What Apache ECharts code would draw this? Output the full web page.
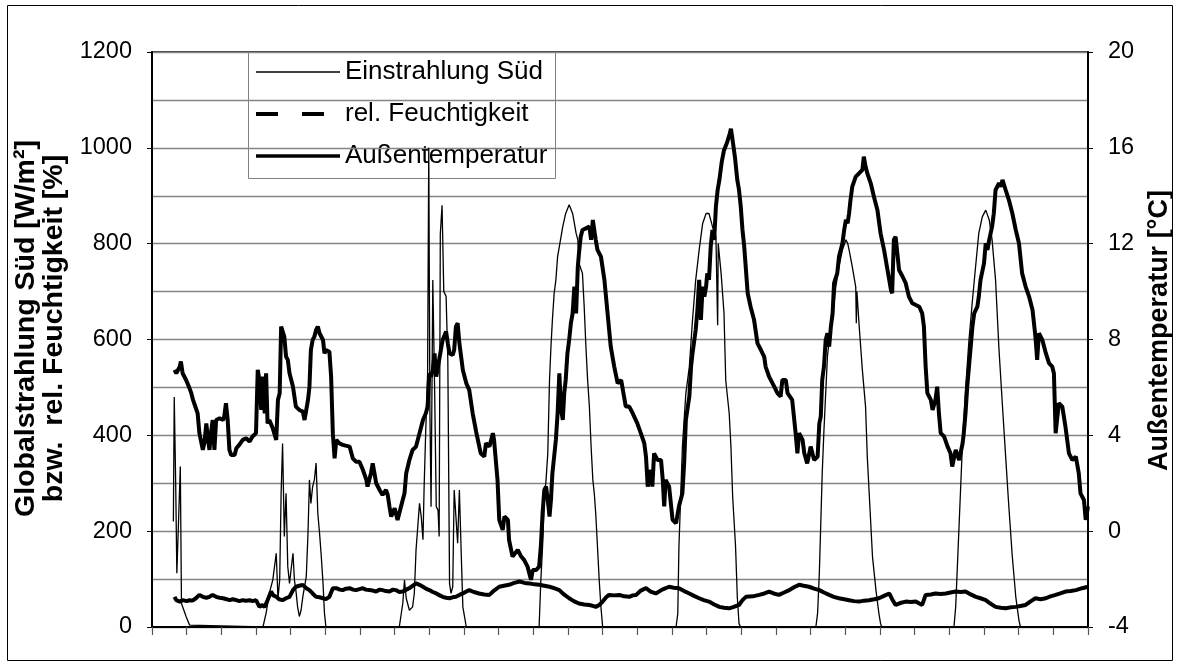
<!DOCTYPE html>
<html>
<head>
<meta charset="utf-8">
<script src="https://cdn.jsdelivr.net/npm/echarts@6/dist/echarts.min.js"></script>
<style>
  html, body { margin: 0; padding: 0; background: #fff; }
  #main { width: 1181px; height: 668px; }
</style>
</head>
<body>
<div id="main"></div>
<script>
// time in hours from start, x axis ticks every 6 h
var seriesNames = ['Einstrahlung Süd', 'rel. Feuchtigkeit', 'Außentemperatur'];

// [hour, W/m²]
var radiation = [
  [3.7, 220], [3.85, 480], [4.1, 300], [4.3, 112], [4.6, 112], [4.9, 335], [5.1, 49], [5.3, 49],
  [5.9, 22], [6.5, 4], [6.8, 0], [19.2, 0], [19.75, 29], [20.3, 70], [20.9, 98], [21.5, 154],
  [21.8, 60], [22.1, 98], [22.35, 279], [22.6, 383], [22.9, 189], [23.2, 279], [23.5, 126],
  [23.8, 91], [24.4, 154], [24.65, 98], [24.9, 77], [25.2, 42], [25.5, 22], [25.8, 35],
  [26.1, 63], [26.7, 105], [27.0, 196], [27.25, 307], [27.5, 258], [27.8, 293], [28.1, 307],
  [28.4, 342], [28.7, 237], [29.0, 196], [29.3, 147], [29.6, 91], [29.85, 29], [30.1, 0],
  [42.8, 0], [43.4, 49], [43.7, 98], [44.0, 60], [44.55, 35], [45.1, 42], [45.4, 70],
  [45.7, 161], [46.0, 161], [46.3, 258], [46.6, 230], [46.9, 182], [47.1, 293], [47.4, 418],
  [47.7, 529], [47.9, 1000], [48.1, 450], [48.3, 251], [48.6, 724], [48.9, 509], [49.2, 251],
  [49.5, 244], [49.7, 189], [49.9, 820], [50.2, 880], [50.5, 700], [50.9, 690], [51.2, 557],
  [51.5, 91], [51.75, 70], [52.05, 84], [52.3, 286], [52.6, 286], [52.9, 175], [53.2, 286],
  [53.5, 161], [53.8, 42], [54.4, 0], [67.0, 0], [67.3, 98], [67.6, 168], [67.9, 265],
  [68.2, 307], [68.5, 362], [68.8, 515], [69.05, 585], [69.3, 641], [69.6, 696], [69.9, 724],
  [70.2, 773], [70.5, 794], [71.1, 836], [71.6, 863], [72.2, 881], [72.5, 877], [72.8, 863],
  [73.4, 822], [73.7, 808], [73.9, 759], [74.5, 738], [74.8, 669], [75.1, 585], [75.4, 515],
  [75.7, 460], [76.0, 376], [76.3, 307], [76.55, 279], [76.8, 237], [77.1, 168], [77.4, 98],
  [77.7, 42], [78.0, 0], [90.7, 0], [91.0, 28], [91.2, 168], [91.5, 272], [91.8, 376],
  [92.4, 488], [93.0, 543], [93.55, 641], [94.1, 724], [94.7, 787], [95.3, 842], [95.9, 863],
  [96.1, 867], [96.4, 863], [97.0, 836], [97.6, 815], [97.8, 815], [97.9, 630], [98.0, 800],
  [98.5, 738], [99.0, 655], [99.3, 515], [99.9, 446], [100.2, 376], [100.5, 272], [101.0, 168],
  [101.3, 63], [101.6, 7], [101.9, 0], [114.9, 0], [115.2, 29], [115.5, 112], [115.75, 216],
  [116.0, 321], [116.3, 411], [116.6, 488], [116.9, 564], [117.2, 599], [117.8, 648],
  [118.35, 710], [118.9, 752], [119.5, 787], [120.1, 808], [120.4, 801], [120.65, 787],
  [121.2, 752], [121.8, 710], [121.9, 634], [122.0, 700], [122.4, 627], [122.95, 536],
  [123.5, 460], [123.8, 355], [124.1, 286], [124.4, 216], [124.7, 147], [125.3, 77],
  [125.8, 29], [126.1, 7], [126.3, 0], [138.8, 0], [139.1, 42], [139.7, 216], [140.3, 390],
  [140.8, 495], [141.4, 599], [142.0, 682], [142.6, 759], [143.1, 822], [143.7, 856],
  [144.3, 870], [144.9, 850], [145.4, 808], [146.0, 724], [146.6, 578], [147.2, 460],
  [147.75, 355], [148.3, 251], [148.9, 147], [149.5, 63], [150.05, 14], [150.3, 0], [162, 0]
];

// [hour, %]
var humidity = [
  [3.9, 63], [4.2, 56], [4.8, 53], [5.3, 56], [6.0, 54], [6.5, 56], [7.0, 55], [7.6, 60],
  [8.2, 67], [8.8, 63], [9.4, 61], [9.95, 63], [10.5, 67], [11.1, 63], [11.7, 61], [12.3, 60],
  [12.9, 58], [13.4, 56], [14.0, 58], [14.6, 56], [15.1, 54], [15.7, 56], [16.3, 55],
  [16.9, 56], [17.4, 54], [18.0, 56], [18.6, 42], [19.0, 46], [19.5, 42], [20.0, 56],
  [20.6, 74], [21.0, 66], [21.5, 63], [22.0, 58], [22.6, 56], [23.2, 60], [23.8, 63],
  [24.4, 77], [24.9, 84], [25.5, 86], [26.1, 88], [26.7, 81], [27.25, 77], [27.8, 70],
  [28.4, 63], [29.0, 62], [29.6, 60], [30.1, 58], [30.7, 63], [31.3, 81], [31.9, 81],
  [32.5, 78], [33.0, 77], [33.6, 80], [34.2, 81], [34.8, 78], [35.3, 77], [35.9, 79],
  [36.5, 81], [37.0, 78], [37.6, 77], [38.2, 76], [38.8, 74], [39.4, 78], [39.9, 77],
  [40.5, 75], [41.1, 74], [41.7, 78], [42.2, 77], [42.8, 73], [43.4, 74], [44.0, 78],
  [44.55, 81], [45.1, 86], [45.7, 91], [46.3, 88], [46.9, 84], [47.4, 80], [48.0, 77],
  [48.6, 73], [49.2, 70], [49.8, 66], [50.3, 63], [50.9, 61], [51.5, 60], [52.0, 62],
  [52.6, 63], [53.2, 67], [53.8, 70], [54.4, 74], [54.9, 77], [55.7, 73], [56.6, 70],
  [57.5, 68], [58.4, 67], [59.2, 76], [60.1, 84], [60.9, 86], [61.8, 88], [62.7, 92],
  [63.6, 95], [64.5, 92], [65.3, 91], [66.2, 89], [67.0, 88], [67.9, 86], [68.8, 84],
  [69.6, 81], [70.5, 77], [71.3, 68], [72.2, 60], [73.0, 54], [73.9, 49], [74.8, 47],
  [75.7, 46], [76.3, 44], [76.8, 42], [77.4, 46], [78.0, 53], [78.6, 62], [79.1, 67],
  [80.0, 66], [80.9, 67], [81.7, 64], [82.6, 63], [83.2, 66], [83.8, 67], [84.6, 76],
  [85.5, 81], [86.3, 74], [87.2, 70], [88.3, 78], [89.5, 84], [90.3, 82], [91.2, 81],
  [92.1, 75], [93.0, 70], [93.8, 65], [94.7, 60], [95.5, 56], [96.4, 53], [97.3, 47],
  [98.2, 42], [99.0, 40], [99.9, 39], [100.7, 42], [101.6, 46], [102.2, 56], [102.8, 63],
  [104.0, 64], [105.1, 67], [106.0, 70], [106.8, 74], [107.6, 70], [108.5, 67], [109.4, 72],
  [110.3, 77], [111.1, 83], [112.0, 88], [112.8, 86], [113.7, 84], [114.6, 80], [115.5, 77],
  [116.3, 72], [117.2, 67], [118.0, 63], [118.9, 60], [119.8, 58], [120.65, 56], [121.5, 54],
  [122.4, 53], [123.2, 55], [124.1, 56], [125.0, 58], [125.8, 60], [126.7, 65], [127.6, 70],
  [128.1, 58], [128.7, 46], [129.5, 50], [130.45, 53], [131.3, 52], [132.2, 53], [132.8, 49],
  [133.3, 46], [133.9, 67], [134.8, 68], [135.6, 70], [136.5, 69], [137.4, 70], [138.2, 72],
  [139.1, 74], [140.0, 73], [140.8, 74], [141.7, 68], [142.6, 63], [143.4, 60], [144.3, 56],
  [145.1, 49], [146.0, 42], [146.9, 40], [147.75, 39], [148.6, 41], [149.5, 42], [150.3, 44],
  [151.2, 46], [152.0, 53], [152.9, 60], [153.8, 58], [154.7, 60], [155.5, 64], [156.4, 67],
  [157.2, 70], [158.1, 74], [159.0, 75], [159.9, 77], [161.0, 81], [162.0, 84]
];

// [hour, °C]
var temperature = [
  [3.9, 6.73], [4.2, 6.59], [4.8, 6.87], [5.0, 7.08], [5.3, 6.59], [5.9, 6.31], [6.5, 5.96],
  [6.8, 5.76], [7.1, 5.48], [7.6, 5.13], [7.9, 4.92], [8.2, 4.09], [8.5, 3.74], [8.8, 3.39],
  [9.1, 3.74], [9.4, 4.5], [9.7, 3.81], [9.95, 3.39], [10.2, 4.09], [10.5, 4.64], [10.8, 3.39],
  [11.1, 4.64], [11.7, 4.71], [12.3, 4.64], [12.5, 4.78], [12.8, 5.34], [13.1, 4.64],
  [13.4, 3.39], [13.7, 3.18], [14.3, 3.18], [14.6, 3.46], [15.1, 3.6], [15.7, 3.81],
  [16.3, 3.88], [16.9, 3.74], [17.4, 3.95], [18.0, 4.09], [18.3, 6.73], [18.6, 6.31],
  [18.9, 5.06], [19.2, 6.45], [19.5, 4.92], [19.75, 6.59], [20.0, 4.5], [20.3, 4.64],
  [20.9, 4.3], [21.5, 3.81], [21.8, 5.48], [22.1, 5.76], [22.35, 8.54], [22.6, 8.54],
  [22.9, 8.12], [23.2, 7.29], [23.5, 7.15], [23.8, 6.59], [24.4, 6.03], [24.9, 5.2],
  [25.5, 5.06], [26.1, 4.99], [26.4, 4.64], [26.7, 5.06], [27.0, 5.48], [27.25, 6.03],
  [27.5, 7.56], [27.8, 7.98], [28.1, 8.12], [28.4, 8.4], [28.7, 8.54], [29.0, 8.26],
  [29.6, 7.98], [29.85, 7.42], [30.1, 7.56], [30.7, 7.49], [31.0, 6.45], [31.3, 4.09],
  [31.6, 3.04], [31.9, 3.81], [32.4, 3.67], [33.0, 3.6], [34.2, 3.53], [34.75, 3.04],
  [35.3, 2.9], [35.9, 2.9], [36.5, 2.56], [37.1, 2.14], [37.3, 1.86], [37.6, 1.86],
  [37.9, 2.42], [38.2, 2.83], [38.5, 2.42], [38.8, 2.0], [39.4, 1.72], [39.9, 1.51],
  [40.5, 1.72], [40.8, 1.51], [41.1, 1.03], [41.4, 0.61], [42.0, 0.96], [42.5, 0.47],
  [43.1, 1.03], [43.7, 1.58], [44.0, 2.42], [44.55, 2.97], [45.1, 3.39], [45.7, 3.53],
  [46.3, 4.09], [46.9, 4.64], [47.4, 4.92], [47.7, 5.2], [48.0, 6.59], [48.3, 6.45],
  [48.6, 6.73], [48.9, 7.42], [49.2, 6.45], [49.7, 7.15], [50.3, 7.98], [50.9, 8.33],
  [51.2, 7.84], [51.5, 7.42], [52.05, 7.36], [52.3, 7.56], [52.6, 8.54], [52.9, 8.68],
  [53.2, 7.84], [53.5, 7.29], [53.8, 6.73], [54.4, 6.17], [54.9, 5.9], [55.5, 4.92],
  [56.1, 4.15], [56.9, 3.25], [57.5, 3.11], [57.8, 3.67], [58.4, 3.53], [59.0, 4.09],
  [59.2, 3.81], [59.8, 2.14], [60.1, 0.47], [60.7, 0.05], [61.0, 0.61], [61.6, 0.47],
  [61.8, -0.37], [62.4, -1.06], [63.3, -0.78], [63.9, -1.06], [64.4, -1.2], [65.0, -1.48],
  [65.6, -2.03], [65.9, -1.62], [66.5, -1.62], [67.0, -1.48], [67.3, -0.64], [67.6, 0.75],
  [67.9, 1.72], [68.2, 1.86], [68.5, 1.3], [68.8, 0.61], [69.05, 1.3], [69.3, 2.42],
  [69.6, 3.11], [69.9, 3.81], [70.2, 4.92], [70.5, 6.59], [70.8, 5.06], [71.1, 4.64],
  [71.35, 5.76], [71.6, 6.31], [71.9, 7.42], [72.2, 7.98], [72.5, 8.68], [72.8, 9.09],
  [73.1, 10.21], [73.4, 9.09], [73.7, 11.04], [73.9, 11.6], [74.2, 12.29], [74.5, 12.57],
  [75.1, 12.64], [75.7, 12.71], [76.0, 12.16], [76.3, 12.99], [76.55, 12.57], [76.8, 12.16],
  [77.1, 11.74], [77.7, 11.46], [78.3, 10.49], [78.85, 9.09], [79.4, 7.7], [80.0, 6.87],
  [80.6, 6.17], [81.2, 6.31], [81.4, 6.03], [82.0, 5.2], [82.6, 5.2], [83.2, 4.92],
  [84.0, 4.5], [84.6, 4.09], [85.2, 3.67], [85.5, 3.11], [85.8, 1.86], [86.35, 2.56],
  [86.6, 1.86], [86.9, 3.25], [87.5, 2.97], [88.1, 2.97], [88.4, 2.14], [88.65, 1.03],
  [88.9, 2.14], [89.5, 1.86], [90.1, 0.47], [90.7, 0.33], [91.2, 1.03], [91.8, 1.58],
  [92.1, 2.83], [92.4, 4.64], [93.0, 5.62], [93.3, 6.87], [93.55, 7.42], [94.1, 8.4],
  [94.4, 9.23], [94.7, 10.49], [95.0, 8.82], [95.3, 10.21], [95.6, 9.79], [95.9, 10.21],
  [96.1, 10.76], [96.4, 10.49], [96.7, 11.88], [97.0, 12.57], [97.3, 12.16], [97.6, 13.55],
  [97.9, 14.24], [98.2, 14.66], [98.6, 15.4], [99.0, 15.9], [99.5, 16.2], [100.0, 16.6],
  [100.2, 16.8], [100.5, 16.3], [100.9, 15.6], [101.3, 14.66], [101.6, 14.24], [101.9, 13.55],
  [102.2, 12.57], [102.5, 11.88], [103.1, 9.93], [103.6, 9.37], [104.2, 8.82], [104.8, 7.84],
  [105.4, 7.56], [105.95, 7.29], [106.2, 6.87], [106.8, 6.45], [107.7, 6.03], [108.25, 5.76],
  [108.8, 5.62], [109.1, 6.31], [109.7, 6.31], [110.0, 5.76], [110.8, 5.48], [111.1, 4.78],
  [111.4, 4.09], [111.7, 3.25], [112.0, 4.09], [112.6, 3.81], [112.9, 3.25], [113.4, 2.83],
  [114.0, 3.53], [114.6, 2.97], [115.2, 3.11], [115.5, 4.5], [115.75, 4.78], [116.0, 6.31],
  [116.3, 6.87], [116.6, 7.98], [116.9, 8.26], [117.2, 7.7], [117.5, 8.54], [117.8, 9.09],
  [118.05, 10.35], [118.6, 10.76], [118.9, 11.46], [119.5, 12.02], [119.8, 12.57],
  [120.1, 12.99], [120.4, 12.85], [120.65, 13.27], [120.9, 13.83], [121.2, 14.38],
  [121.8, 14.8], [122.4, 14.94], [122.95, 15.08], [123.2, 15.63], [123.5, 15.22],
  [123.8, 14.94], [124.4, 14.52], [124.95, 13.96], [125.55, 13.41], [126.1, 12.43],
  [126.7, 11.74], [127.3, 10.9], [127.9, 10.07], [128.1, 9.93], [128.4, 12.16], [128.7, 12.29],
  [129.0, 11.6], [129.3, 10.9], [129.9, 10.63], [130.45, 10.35], [131.0, 9.79], [131.6, 9.51],
  [132.8, 9.37], [133.3, 9.09], [133.6, 8.54], [133.9, 6.87], [134.2, 5.76], [134.8, 5.48],
  [135.1, 5.06], [135.6, 5.48], [135.9, 6.03], [136.2, 4.92], [136.5, 4.09], [137.1, 3.95],
  [137.7, 3.53], [138.2, 3.25], [138.5, 2.7], [139.1, 3.39], [139.7, 2.97], [140.3, 3.67],
  [140.5, 4.09], [140.8, 4.92], [141.1, 6.03], [141.4, 6.87], [141.7, 7.7], [142.0, 8.54],
  [142.3, 9.09], [142.85, 9.37], [143.1, 9.79], [143.4, 10.49], [144.0, 11.18], [144.3, 12.02],
  [144.6, 11.74], [144.9, 12.16], [145.4, 12.71], [145.7, 13.27], [146.0, 14.24], [146.6, 14.52],
  [146.9, 14.38], [147.2, 14.66], [147.75, 14.24], [148.3, 13.83], [148.9, 13.27],
  [149.5, 12.57], [150.05, 12.02], [150.6, 10.76], [151.2, 10.21], [151.8, 9.79], [152.4, 9.23],
  [152.9, 8.12], [153.2, 7.15], [153.5, 8.26], [154.1, 7.98], [154.7, 7.43], [155.25, 7.01],
  [155.8, 6.87], [156.1, 6.59], [156.4, 4.09], [156.95, 5.34], [157.55, 5.2], [158.1, 4.36],
  [158.7, 3.25], [159.3, 2.97], [159.9, 3.11], [160.4, 2.42], [160.7, 1.58], [161.3, 1.3],
  [161.6, 0.47], [162.0, 1.03]
];

var FONT = 'Liberation Sans, Arial, sans-serif';

// legend box drawn by hand (line samples + names)
function legendGraphic() {
    var x0 = 248.5, y0 = 52.5, rowY = [72, 114, 156];
    var styles = [
        { stroke: '#000', lineWidth: 1.3 },
        { stroke: '#000', lineWidth: 4, lineDash: [22, 24] },
        { stroke: '#000', lineWidth: 3.3 }
    ];
    var children = [{
        type: 'rect',
        shape: { x: x0, y: y0, width: 307, height: 126 },
        style: { fill: '#fff', stroke: '#808080', lineWidth: 1 }
    }];
    seriesNames.forEach(function (name, i) {
        children.push({
            type: 'line',
            shape: { x1: 256, y1: rowY[i], x2: 340, y2: rowY[i] },
            style: styles[i]
        });
        children.push({
            type: 'text',
            x: 345, y: rowY[i],
            style: { text: name, font: '26px ' + FONT, fill: '#000', verticalAlign: 'middle' }
        });
    });
    return { type: 'group', z: 100, children: children };
}

var myChart = echarts.init(document.getElementById('main'), null, { renderer: 'canvas' });
var option = {
    animation: false,
    backgroundColor: '#fff',
    textStyle: { fontFamily: FONT, color: '#000' },
    graphic: [{
        type: 'rect',
        shape: { x: 7.5, y: 5.5, width: 1165, height: 655 },
        style: { fill: 'none', stroke: '#000', lineWidth: 1 },
        z: -1
    }, legendGraphic()],
    grid: {
        left: 152, right: 92, top: 52, bottom: 41,
        show: true, borderColor: '#000', borderWidth: 1.5
    },
    xAxis: {
        type: 'value', min: 0, max: 162, interval: 6,
        axisLine: { show: true, onZero: false, lineStyle: { color: '#000', width: 2 } },
        axisTick: { show: true, length: 8, lineStyle: { color: '#555', width: 1.2 } },
        axisLabel: { show: false },
        splitLine: { show: false }
    },
    yAxis: [{
        type: 'value', min: 0, max: 1200, interval: 200,
        position: 'left',
        name: 'Globalstrahlung Süd [W/m²]\nbzw.  rel. Feuchtigkeit [%]',
        nameLocation: 'middle', nameRotate: 90, nameGap: 73,
        nameTextStyle: { fontFamily: FONT, fontSize: 28.5, fontWeight: 'bold', lineHeight: 28, color: '#000', padding: [0, 0, 0, 22] },
        axisLine: { show: true, lineStyle: { color: '#000', width: 2 } },
        axisTick: { show: true, length: 5, lineStyle: { color: '#000' } },
        axisLabel: { margin: 20, fontFamily: FONT, fontSize: 23.5, color: '#000', formatter: function (v) { return String(v); } },
        splitLine: { show: true, lineStyle: { color: '#858585', width: 1.3 } },
        minorTick: { show: false, splitNumber: 2 },
        minorSplitLine: { show: true, lineStyle: { color: '#858585', width: 1.3 } }
    }, {
        type: 'value', min: -4, max: 20, interval: 4,
        position: 'right',
        name: 'Außentemperatur [°C]',
        nameLocation: 'middle', nameRotate: 90, nameGap: 58,
        nameTextStyle: { fontFamily: FONT, fontSize: 27, fontWeight: 'bold', color: '#000', padding: [0, 0, 0, 18] },
        axisLine: { show: true, lineStyle: { color: '#000', width: 2 } },
        axisTick: { show: true, length: 5, lineStyle: { color: '#000' } },
        axisLabel: { margin: 20, fontFamily: FONT, fontSize: 23.5, color: '#000', formatter: function (v) { return String(v); } },
        splitLine: { show: false }
    }],
    series: [{
        name: seriesNames[0],
        type: 'line',
        data: radiation,
        showSymbol: false, symbol: 'none',
        lineStyle: { color: '#000', width: 1.3 },
        z: 3
    }, {
        name: seriesNames[1],
        type: 'line',
        data: humidity,
        showSymbol: false, symbol: 'none',
        lineStyle: { color: '#000', width: 4 },
        z: 4
    }, {
        name: seriesNames[2],
        type: 'line',
        yAxisIndex: 1,
        data: temperature,
        showSymbol: false, symbol: 'none',
        lineStyle: { color: '#000', width: 4 },
        z: 4
    }]
};
myChart.setOption(option);
</script>
</body>
</html>
